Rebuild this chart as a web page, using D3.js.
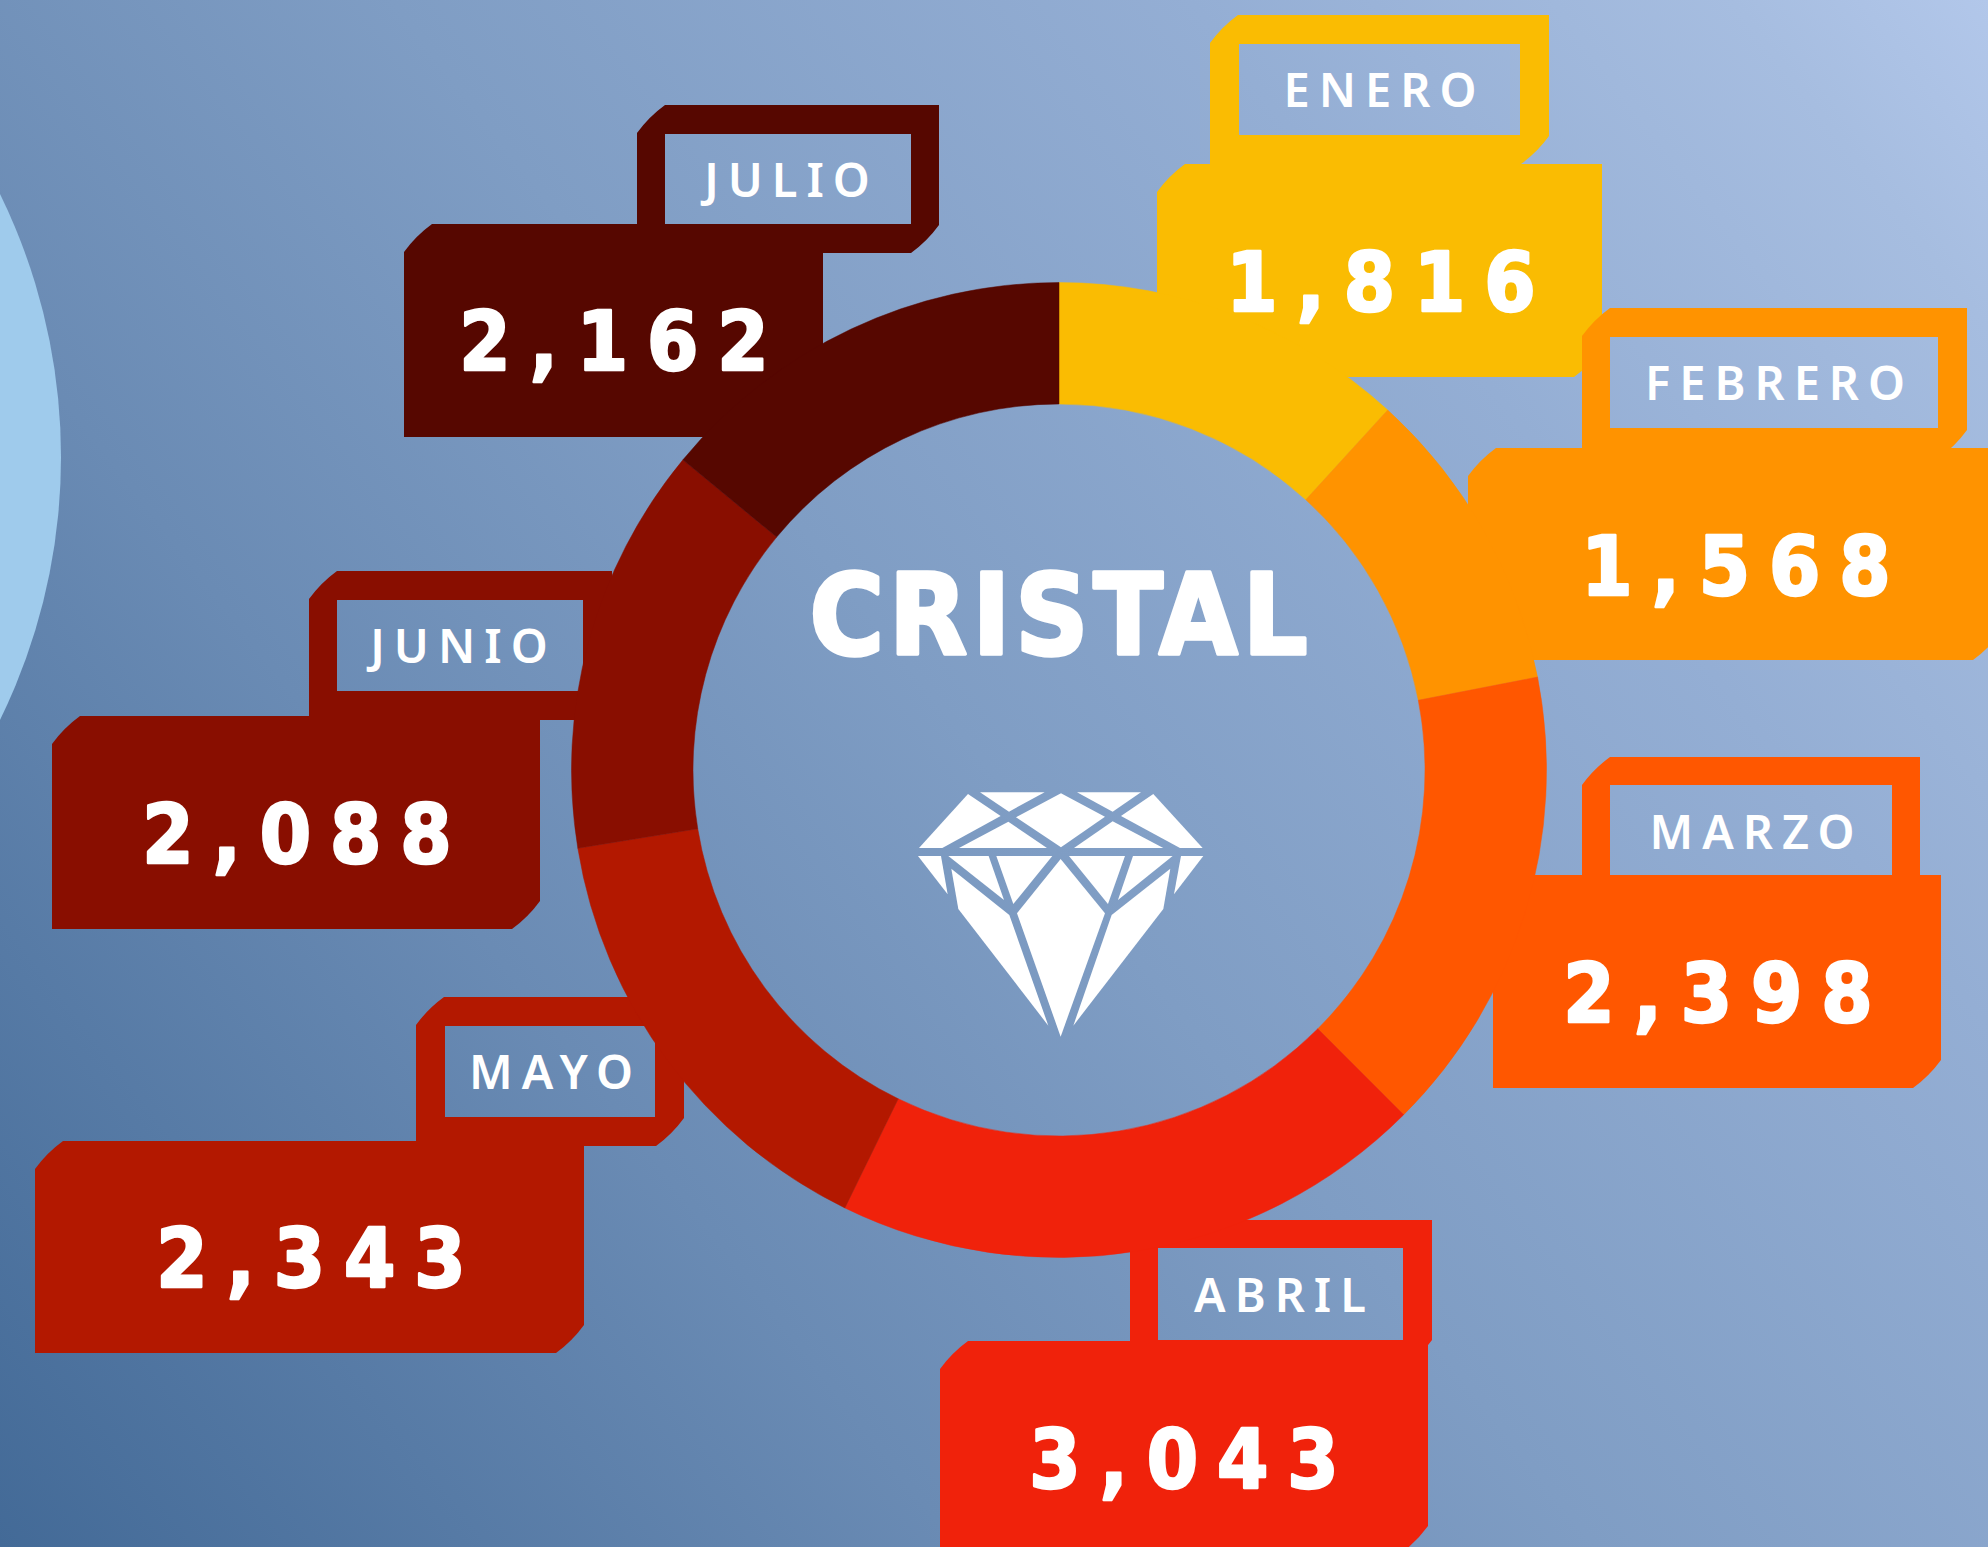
<!DOCTYPE html>
<html>
<head>
<meta charset="utf-8">
<script src="https://cdn.jsdelivr.net/npm/d3@7"></script>
<style>
  html, body { margin: 0; padding: 0; overflow: hidden; }
  text { fill: #fff; text-anchor: middle; }
  .value { font: 700 82px "DejaVu Sans"; font-stretch: condensed; letter-spacing: 19px; stroke: #fff; stroke-width: 2.5px; stroke-linejoin: round; }
  .month { font: 600 47px "Noto Sans"; letter-spacing: 9px; }
  .title { font: 700 113px "DejaVu Sans"; font-stretch: condensed; letter-spacing: 5px; stroke: #fff; stroke-width: 3.5px; stroke-linejoin: round; }
</style>
</head>
<body>
<div id="container"></div>
<script>
const width = 1988;
const height = 1547;

// chart data
const months = ["ENERO", "FEBRERO", "MARZO", "ABRIL", "MAYO", "JUNIO", "JULIO"];
const values = [1816, 1568, 2398, 3043, 2343, 2088, 2162];
const colors = ["#FABC02", "#FF9300", "#FF5700", "#F0220B", "#B31800", "#890E00", "#560700"];
const title = "CRISTAL";

// callout layout, one row per month, same order as months
// frame: x0,y0,x1,y1  hole: x0,y0,x1,y1  box: x0,y0,x1,y1  month text x,y  value text x,y
const frames = [[1210, 15, 1549, 164], [1582, 308, 1967, 458], [1582, 757, 1920, 905], [1130, 1220, 1432, 1368], [416, 997, 684, 1146], [309, 571, 612, 720], [637, 105, 939, 253]];
const holes = [[1239, 44, 1520, 135], [1610, 337, 1938, 428], [1610, 785, 1892, 875], [1158, 1248, 1403, 1340], [445, 1026, 655, 1117], [337, 600, 583, 691], [665, 134, 911, 224]];
const boxes = [[1157, 164, 1602, 377], [1468, 448, 2001, 660], [1493, 875, 1941, 1088], [940, 1341, 1428, 1554], [35, 1141, 584, 1353], [52, 716, 540, 929], [404, 224, 823, 437]];
const monthPos = [[1380, 107], [1775, 400], [1752, 849], [1280, 1312], [551, 1089], [459, 663], [787, 197]];
const valuePos = [[1381, 312], [1736, 596], [1718, 1023], [1184, 1489], [311, 1288], [297, 864], [614, 371]];

// diamond icon facets, in 3x pixels
const facets = [
  [[264, 102], [362, 168], [187, 264], [117, 264]],
  [[300, 97], [494, 97], [387, 155]],
  [[543, 100], [675, 170], [543, 262], [408, 172]],
  [[591, 97], [783, 97], [698, 155]],
  [[820, 102], [968, 264], [900, 264], [723, 168]],
  [[385, 185], [501, 264], [237, 264]],
  [[698, 184], [850, 264], [582, 264]],
  [[114, 288], [183, 288], [203, 403]],
  [[205, 288], [326, 288], [372, 420]],
  [[349, 288], [517, 288], [400, 432]],
  [[567, 288], [735, 288], [684, 432]],
  [[759, 288], [878, 288], [714, 420]],
  [[903, 288], [970, 288], [882, 403]],
  [[542, 297], [675, 460], [542, 830], [411, 460]],
  [[214, 326], [388, 465], [505, 797], [235, 447]],
  [[871, 326], [695, 465], [580, 797], [850, 447]]
];

const svg = d3.select("#container").append("svg")
  .attr("width", width)
  .attr("height", height)
  .style("display", "block");

// background
const grad = svg.append("defs").append("linearGradient")
  .attr("id", "bg")
  .attr("gradientUnits", "userSpaceOnUse")
  .attr("x1", 0).attr("y1", height)
  .attr("x2", width).attr("y2", 0);
[[0, "#436A97"], [0.3, "#6A8BB4"], [0.5, "#7F9DC4"], [0.75, "#94AED4"], [0.92, "#A6BDE0"], [1, "#B2C7EA"]].forEach(s => {
  grad.append("stop").attr("offset", s[0]).attr("stop-color", s[1]);
});
svg.append("rect").attr("width", width).attr("height", height).attr("fill", "url(#bg)");

svg.append("circle")
  .attr("cx", -536).attr("cy", 457).attr("r", 597)
  .attr("fill", "#9FCBEC");

const chamfer = 28;

// tag with top-left and bottom-right corners cut
function tagPath(r, hole) {
  const [x0, y0, x1, y1] = r;
  const k = chamfer * 0.42;
  const p = d3.path();
  p.moveTo(x0, y0 + chamfer);
  p.quadraticCurveTo(x0 + k, y0 + k, x0 + chamfer, y0);
  p.lineTo(x1, y0);
  p.lineTo(x1, y1 - chamfer);
  p.quadraticCurveTo(x1 - k, y1 - k, x1 - chamfer, y1);
  p.lineTo(x0, y1);
  p.closePath();
  if (hole) {
    p.rect(hole[0], hole[1], hole[2] - hole[0], hole[3] - hole[1]);
  }
  return p.toString();
}

const callouts = svg.selectAll("g.callout")
  .data(months)
  .enter()
  .append("g")
  .attr("class", "callout")
  .attr("fill", (d, i) => colors[i]);

callouts.append("path")
  .attr("fill-rule", "evenodd")
  .attr("d", (d, i) => tagPath(frames[i], holes[i]));

callouts.append("path")
  .attr("d", (d, i) => tagPath(boxes[i]));

// ring
const pie = d3.pie().sort(null).value(d => d);
const arc = d3.arc().innerRadius(366).outerRadius(487.5);

svg.append("g")
  .attr("transform", "translate(1059,770)")
  .selectAll("path")
  .data(pie(values))
  .enter()
  .append("path")
  .attr("d", arc)
  .attr("fill", (d, i) => colors[i])
  .attr("stroke", (d, i) => colors[i])
  .attr("stroke-width", 0.5);

// texts, shifted half a letter-space because the trailing space counts for the anchor
svg.selectAll("text.month")
  .data(months)
  .enter()
  .append("text")
  .attr("class", "month")
  .attr("x", (d, i) => monthPos[i][0] + 4.5)
  .attr("y", (d, i) => monthPos[i][1])
  .text(d => d);

svg.selectAll("text.value")
  .data(values)
  .enter()
  .append("text")
  .attr("class", "value")
  .attr("x", (d, i) => valuePos[i][0] + 9.5)
  .attr("y", (d, i) => valuePos[i][1] - 1)
  .text(d => d3.format(",")(d));

svg.append("text")
  .attr("class", "title")
  .attr("x", 1061)
  .attr("y", 654)
  .text(title);

// diamond
svg.append("g")
  .attr("transform", "translate(880,760) scale(0.3333)")
  .selectAll("polygon")
  .data(facets)
  .enter()
  .append("polygon")
  .attr("points", d => d.join(" "))
  .attr("fill", "#fff");
</script>
</body>
</html>
